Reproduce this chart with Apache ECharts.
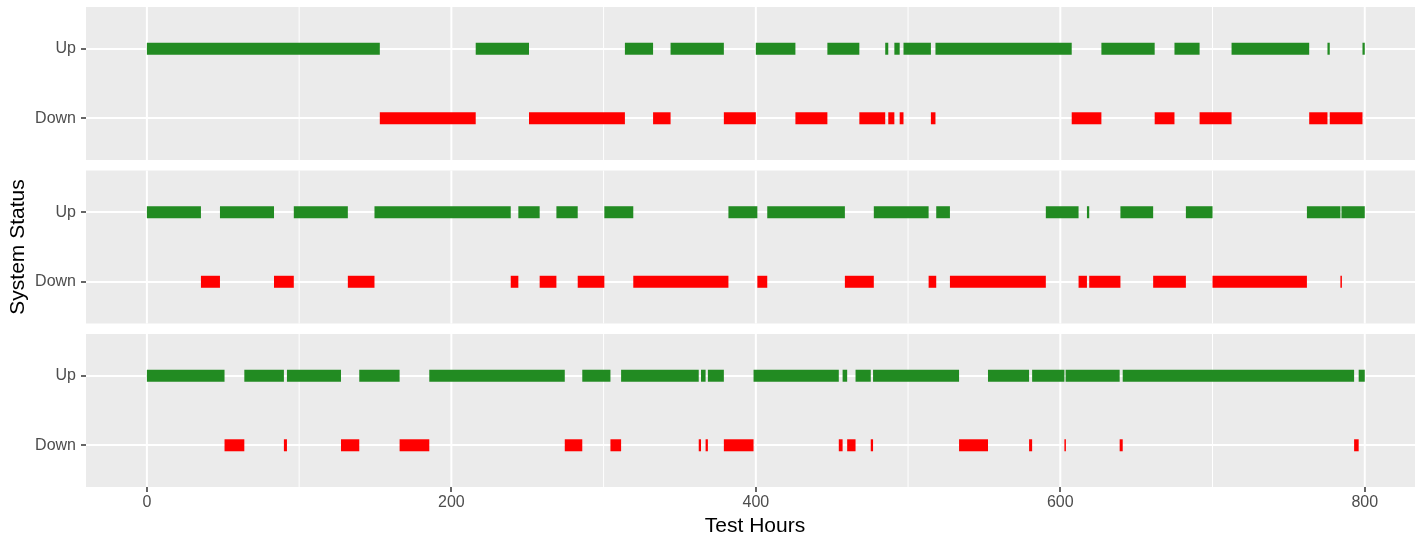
<!DOCTYPE html>
<html><head><meta charset="utf-8">
<script src="https://cdn.jsdelivr.net/npm/echarts@6/dist/echarts.min.js"></script>
<style>html,body{margin:0;padding:0;background:#fff}#c{width:1415px;height:535px}</style>
</head><body><div id="c"></div>
<script>
// ---- data ----
const statusLabels = ['Down', 'Up'];          // y value 1 = Down, 2 = Up
const xTicks = [0, 200, 400, 600, 800];
const xMinorTicks = [100, 300, 500, 700];
const runEnd = 800;
// Each run starts "Up" at hour 0; the status toggles at every time listed.
const run1Switch = [153, 216, 251, 314, 332.5, 344, 379, 400, 426, 447, 468, 485, 487, 491, 494.5, 497,
  515, 518, 607.5, 627, 662, 675, 691.5, 712.5, 763.5, 775.5, 777, 798.5];
const run2Switch = [35.5, 48, 83.5, 96.5, 132, 149.5, 239, 244, 258, 269, 283, 300.5, 319.5, 382, 401,
  407.5, 458.5, 477.5, 513.5, 518.5, 527.5, 590.5, 612, 617.5, 619, 639.5, 661, 682.5, 700, 762, 784, 784.7];
const run3Switch = [51, 64, 90, 92, 127.5, 139.5, 166, 185.5, 274.5, 286, 304.5, 311.5, 362.5, 364, 367,
  368.5, 379, 398.5, 454.5, 457, 460, 465.5, 475.5, 477, 533.5, 552.5, 579.5, 581.5, 602.7, 603.5, 639,
  641, 793, 796];
const runs = [run1Switch, run2Switch, run3Switch];

// ---- build segments ----
function toSegments(sw) {
  const segs = [];
  let start = 0, state = 2;
  sw.forEach(t => { segs.push([start, t, state]); start = t; state = state === 2 ? 1 : 2; });
  segs.push([start, runEnd, state]);
  return segs;
}

const GREEN = '#228B22', RED = '#FF0000', TICK = '#333333';
const tops = [7, 170.5, 334];
const panelH = 153;
const grids = [], xAxes = [], yAxes = [], series = [];
const lblFont = 'Liberation Sans, Arial, sans-serif';

tops.forEach((top, i) => {
  grids.push({ left: 86, right: 0, top: top, height: panelH, show: true,
    backgroundColor: '#EBEBEB', borderWidth: 0, containLabel: false });
  const last = i === tops.length - 1;
  xAxes.push({ type: 'value', gridIndex: i, min: -40, max: 833,
    axisLine: { show: false }, splitLine: { show: false }, axisTick: { show: false },
    axisLabel: { show: last, customValues: xTicks, fontSize: 16, color: '#4d4d4d', margin: 8, fontFamily: lblFont } });
  yAxes.push({ type: 'value', gridIndex: i, min: 0.4, max: 2.6,
    axisLine: { show: false }, splitLine: { show: false }, axisTick: { show: false },
    axisLabel: { customValues: [1, 2], fontSize: 16, color: '#4d4d4d', margin: 10, fontFamily: lblFont,
      formatter: v => statusLabels[Math.round(v) - 1] || '' } });

  // vertical grid lines
  const vData = xTicks.map(v => [v, 1]).concat(xMinorTicks.map(v => [v, 0]));
  series.push({ type: 'custom', xAxisIndex: i, yAxisIndex: i, z: 1, silent: true,
    encode: { x: 0 }, data: vData,
    renderItem: (params, api) => {
      const cs = params.coordSys;
      const x = api.coord([api.value(0), 1.5])[0];
      return { type: 'line', shape: { x1: x, y1: cs.y, x2: x, y2: cs.y + cs.height },
        style: { stroke: '#fff', lineWidth: api.value(1) ? 2 : 1 } };
    } });
  // horizontal grid lines + y tick marks
  series.push({ type: 'custom', xAxisIndex: i, yAxisIndex: i, z: 1, silent: true, clip: false,
    encode: { y: 0 }, data: [[1], [2]],
    renderItem: (params, api) => {
      const cs = params.coordSys;
      const y = Math.round(api.coord([0, api.value(0)])[1]);
      return { type: 'group', children: [
        { type: 'line', shape: { x1: cs.x, y1: y, x2: cs.x + cs.width, y2: y },
          style: { stroke: '#fff', lineWidth: 2 } },
        { type: 'line', shape: { x1: cs.x - 5, y1: y, x2: cs.x, y2: y },
          style: { stroke: TICK, lineWidth: 1.5 } }
      ] };
    } });
  // x tick marks on the bottom panel
  if (last) {
    series.push({ type: 'custom', xAxisIndex: i, yAxisIndex: i, z: 1, silent: true, clip: false,
      encode: { x: 0 }, data: xTicks.map(v => [v]),
      renderItem: (params, api) => {
        const cs = params.coordSys;
        const x = Math.round(api.coord([api.value(0), 1.5])[0]);
        return { type: 'line', shape: { x1: x, y1: cs.y + cs.height, x2: x, y2: cs.y + cs.height + 5 },
          style: { stroke: TICK, lineWidth: 1.5 } };
      } });
  }
  // status segments
  series.push({ type: 'custom', xAxisIndex: i, yAxisIndex: i, z: 5, silent: true,
    encode: { x: [0, 1], y: 2 }, data: toSegments(runs[i]),
    renderItem: (params, api) => {
      const s = api.coord([api.value(0), api.value(2)]);
      const e = api.coord([api.value(1), api.value(2)]);
      const w = Math.max(e[0] - s[0], 1.5);
      return { type: 'rect', shape: { x: s[0], y: s[1] - 6, width: w, height: 12 },
        style: { fill: api.value(2) === 2 ? GREEN : RED } };
    } });
});

const chart = echarts.init(document.getElementById('c'), null, { renderer: 'canvas' });
chart.setOption({
  animation: false,
  backgroundColor: '#fff',
  grid: grids, xAxis: xAxes, yAxis: yAxes, series: series,
  graphic: [
    { type: 'text', x: 755, y: 526, style: { text: 'Test Hours', fontSize: 21, fill: '#000',
      fontFamily: lblFont, textAlign: 'center', textVerticalAlign: 'middle' } },
    { type: 'text', x: 18, y: 247, rotation: Math.PI / 2, style: { text: 'System Status', fontSize: 21,
      fill: '#000', fontFamily: lblFont, textAlign: 'center', textVerticalAlign: 'middle' } }
  ]
});
</script></body></html>
